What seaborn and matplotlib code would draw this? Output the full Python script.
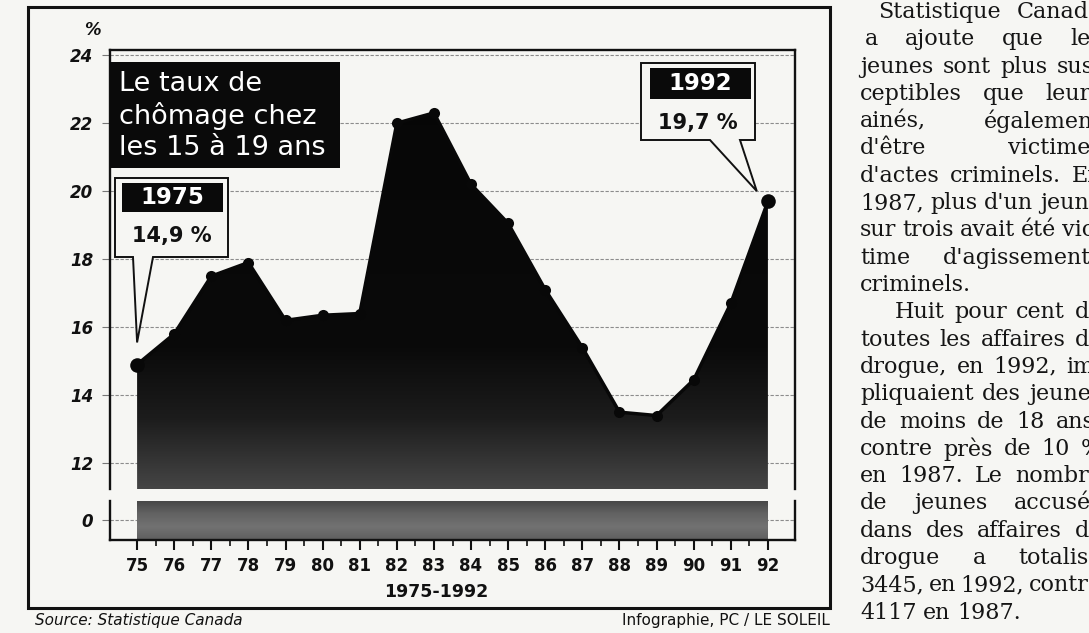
import numpy as np
import pandas as pd
import matplotlib.pyplot as plt
import seaborn as sns
from matplotlib.patches import Rectangle, Polygon
from matplotlib.colors import LinearSegmentedColormap

years = [75, 76, 77, 78, 79, 80, 81, 82, 83, 84, 85, 86, 87, 88, 89, 90, 91, 92]
rates = [14.9, 15.8, 17.5, 17.9, 16.2, 16.35, 16.4, 22.0, 22.3, 20.2, 19.05,
         17.1, 15.4, 13.5, 13.4, 14.45, 16.7, 19.7]
y_ticks_top = [12, 14, 16, 18, 20, 22, 24]
y_ticks_bot = [0]
year_labels = [str(y) for y in years]
title_lines = ["Le taux de", "chômage chez", "les 15 à 19 ans"]
first_label, first_value = "1975", "14,9 %"
last_label, last_value = "1992", "19,7 %"
period_label = "1975-1992"
source_text = "Source: Statistique Canada"
credit_text = "Infographie, PC / LE SOLEIL"
article_lines = [
    "Statistique Canada", "a ajoute que les", "jeunes sont plus sus-",
    "ceptibles que leurs", "ainés, également", "d'être victimes",
    "d'actes criminels. En", "1987, plus d'un jeune", "sur trois avait été vic-",
    "time d'agissements", "criminels.", "Huit pour cent de",
    "toutes les affaires de", "drogue, en 1992, im-", "pliquaient des jeunes",
    "de moins de 18 ans,", "contre près de 10 %", "en 1987. Le nombre",
    "de jeunes accusés", "dans des affaires de", "drogue a totalisé",
    "3445, en 1992, contre", "4117 en 1987.",
]
paragraph_ends = {"criminels.", "4117 en 1987."}

W, H = 1089, 633
PAPER = "#f6f6f3"
YLO, YHI = 11.24, 24.15
XLO, XHI = 74.27, 92.73


def fx(x):
    return x / W


def fy(y):
    return 1 - y / H


sns.set_style("white")
plt.rcParams["font.family"] = ["DejaVu Sans"]

fig = plt.figure(figsize=(W / 100, H / 100), dpi=100, facecolor=PAPER)
ax = fig.add_axes([fx(110), fy(489), fx(795) - fx(110), fy(50) - fy(489)])
axb = fig.add_axes([fx(110), fy(540), fx(795) - fx(110), fy(501) - fy(540)])

df = pd.DataFrame({"year": years, "rate": rates})

# upper panel: near-black area that greys out towards the bottom
ink = LinearSegmentedColormap.from_list(
    "ink", [(0.0, "#060606"), (0.68, "#0a0a0a"), (0.84, "#1c1c1c"), (1.0, "#454545")])
verts = [(years[0], YLO)] + list(zip(years, rates)) + [(years[-1], YLO)]
clip = Polygon(verts, closed=True, facecolor="none", edgecolor="none")
ax.add_patch(clip)
grad = np.linspace(0, 1, 256).reshape(-1, 1)
img = ax.imshow(grad, cmap=ink, aspect="auto", origin="upper",
                extent=[years[0], years[-1], YLO, YHI], zorder=2, interpolation="bilinear")
img.set_clip_path(clip)

sns.lineplot(data=df, x="year", y="rate", ax=ax, color="#080808", lw=2.5,
             marker="o", markersize=8, markeredgewidth=0, zorder=4)
ends = df.iloc[[0, -1]]
sns.scatterplot(data=ends, x="year", y="rate", ax=ax, color="#080808", s=110,
                linewidth=0, zorder=5)

# lower (broken) panel around zero
grey = LinearSegmentedColormap.from_list("grey", ["#454545", "#626262", "#727272", "#5e5e5e"])
verts_b = [(years[0], -1.05), (years[-1], -1.05), (years[-1], 1.0), (years[0], 1.0)]
clip_b = Polygon(verts_b, closed=True, facecolor="none", edgecolor="none")
axb.add_patch(clip_b)
img_b = axb.imshow(grad, cmap=grey, aspect="auto", origin="upper",
                   extent=[years[0], years[-1], -1.05, 1.0], zorder=2, interpolation="bilinear")
img_b.set_clip_path(clip_b)

for a in (ax, axb):
    a.set_facecolor(PAPER)
    a.set_xlim(XLO, XHI)
    a.set_xlabel("")
    a.set_ylabel("")
    a.yaxis.grid(True, linestyle=(0, (3, 1.5)), color="#8c8c8c", lw=0.8)
    a.xaxis.grid(False)
    a.set_axisbelow(True)
    for s in a.spines.values():
        s.set_color("#111111")
        s.set_linewidth(1.7)
ax.set_ylim(YLO, YHI)
axb.set_ylim(-1.05, 1.0)
ax.spines["bottom"].set_visible(False)
axb.spines["top"].set_visible(False)

tick_font = dict(fontsize=12, fontweight="bold", fontstyle="italic", color="#111111")
ax.set_yticks(y_ticks_top, labels=[str(t) for t in y_ticks_top], **tick_font)
axb.set_yticks(y_ticks_bot, labels=[str(t) for t in y_ticks_bot], **tick_font)
for a in (ax, axb):
    a.tick_params(axis="y", left=True, length=6, width=0.8, color="#777777",
                  direction="out", pad=6)
ax.tick_params(axis="x", which="both", bottom=False, labelbottom=False)

axb.set_xticks(years, labels=year_labels, fontsize=12, fontweight="bold", color="#111111")
axb.set_xticks(np.array(years[:-1]) + 0.5, minor=True)
axb.tick_params(axis="x", which="major", bottom=True, length=7, width=1.5,
                direction="out", color="#111111", pad=5)
axb.tick_params(axis="x", which="minor", bottom=True, length=4, width=1.2,
                direction="out", color="#111111")

# outer frame and surrounding texts
fig.add_artist(Rectangle((fx(28), fy(608)), fx(830) - fx(28), fy(7) - fy(608),
                         transform=fig.transFigure, fill=False, lw=2.2, ec="#111111"))
fig.text(fx(92), fy(30), "%", fontsize=12, fontweight="bold", fontstyle="italic",
         ha="center", va="center", color="#111111")
fig.text(fx(436), fy(592), period_label, fontsize=12.5, fontweight="bold",
         ha="center", va="center", color="#111111")
fig.text(fx(35), fy(621), source_text, fontsize=11, fontstyle="italic",
         ha="left", va="center", color="#111111")
fig.text(fx(830), fy(621), credit_text, fontsize=11, ha="right", va="center", color="#111111")

# title block
fig.add_artist(Rectangle((fx(110), fy(168)), fx(340) - fx(110), fy(62) - fy(168),
                         transform=fig.transFigure, fc="#0a0a0a", ec="none", zorder=6))
for i, line in enumerate(title_lines):
    fig.text(fx(119), fy(84 + 32 * i), line, fontsize=19.5, color="white",
             ha="left", va="center", zorder=7)


def to_px(axis, x, y):
    dx, dy = axis.transData.transform((x, y))
    return dx, H - dy


def callout(box, base, tip, label, value, label_box, value_y):
    x0, y0, x1, y1 = box
    pts = [(x0, y0), (x1, y0), (x1, y1), (base[1], y1), tip, (base[0], y1), (x0, y1)]
    fig.add_artist(Polygon([(fx(px), fy(py)) for px, py in pts], closed=True,
                           transform=fig.transFigure, fc=PAPER, ec="#111111",
                           lw=1.4, zorder=6))
    lx0, ly0, lx1, ly1 = label_box
    fig.add_artist(Rectangle((fx(lx0), fy(ly1)), fx(lx1) - fx(lx0), fy(ly0) - fy(ly1),
                             transform=fig.transFigure, fc="#0a0a0a", ec="none", zorder=7))
    fig.text(fx((lx0 + lx1) / 2), fy((ly0 + ly1) / 2), label, fontsize=16.5,
             fontweight="bold", color="white", ha="center", va="center", zorder=8)
    fig.text(fx((x0 + x1) / 2), fy(value_y), value, fontsize=15, fontweight="bold",
             color="#111111", ha="center", va="center", zorder=8)


callout((115, 178, 228, 257), (133, 153), to_px(ax, years[0], 15.55),
        first_label, first_value, (122, 183, 223, 212), 236)
callout((641, 63, 755, 140), (710, 740), to_px(ax, 91.7, 20.0),
        last_label, last_value, (650, 68, 751, 99), 123)

# article column on the right (cut by the page edge, as in the scan), justified
renderer = fig.canvas.get_renderer()
BODY_PT = 16
serif = dict(family="DejaVu Serif", fontsize=BODY_PT, color="#151515", va="center", ha="left")
COL_RIGHT = 1102
for i, line in enumerate(article_lines):
    y = 12 + 27.3 * i
    if i == 0:
        x0 = 878
    elif i == 1:
        x0 = 865
    elif line.startswith("Huit"):
        x0 = 895
    else:
        x0 = 860
    words = line.split()
    arts = [fig.text(fx(x0), fy(y), w, **serif) for w in words]
    widths = [t.get_window_extent(renderer).width for t in arts]
    space = 0.3 * BODY_PT * 100 / 72
    if line not in paragraph_ends and len(words) > 1:
        gap = max((COL_RIGHT - x0 - sum(widths)) / (len(words) - 1), 0.6 * space)
    else:
        gap = space
    x = x0
    for t, w in zip(arts, widths):
        t.set_x(fx(x))
        x += w + gap

fig.savefig("out.png", dpi=100, facecolor=PAPER)
